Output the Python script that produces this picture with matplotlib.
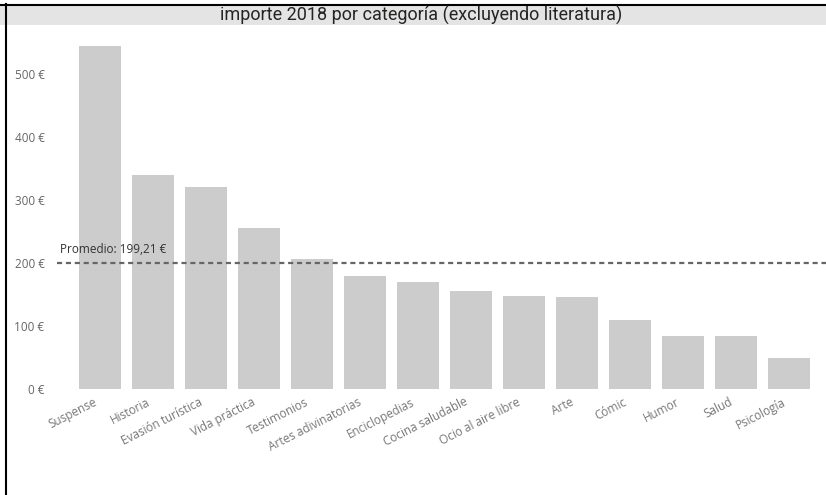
import matplotlib
matplotlib.use("Agg")
import matplotlib.pyplot as plt
from matplotlib.patches import Rectangle
from matplotlib.lines import Line2D
from matplotlib.transforms import ScaledTranslation

categories = ["Suspense", "Historia", "Evasión turística", "Vida práctica", "Testimonios",
              "Artes adivinatorias", "Enciclopedias", "Cocina saludable", "Ocio al aire libre",
              "Arte", "Cómic", "Humor", "Salud", "Psicología"]
values = [545, 340, 321, 255, 206, 179.5, 169, 156, 148, 146.5, 109, 83, 83, 48]
yticks = [0, 100, 200, 300, 400, 500]
title = "importe 2018 por categoría (excluyendo literatura)"

mean_val = sum(values) / len(values)

fig = plt.figure(figsize=(8.26, 4.95), dpi=100)
fig.patch.set_facecolor("white")

# title band
fig.patches.append(Rectangle((0, 1 - 25 / 495), 1, 21 / 495, transform=fig.transFigure,
                             facecolor="#e4e4e4", edgecolor="none", zorder=0))
fig.lines.append(Line2D([0, 1], [1 - 4.5 / 495] * 2, transform=fig.transFigure,
                        color="black", lw=1.5))
fig.lines.append(Line2D([5.5 / 826] * 2, [0, 1 - 4 / 495], transform=fig.transFigure,
                        color="black", lw=1.5))
fig.text(0.51, 1 - 15.5 / 495, title, ha="center", va="center", fontsize=13,
         family=["Roboto", "DejaVu Sans"], color="#252423")

ax = fig.add_axes([57 / 826, (495 - 388.7) / 495, 1 - 57 / 826, (388.7 - 30) / 495])
x = list(range(len(categories)))
ax.bar(x, values, width=0.79, color="#cccccc", zorder=2)
ax.set_xlim(-0.811, 13.70)
ax.set_ylim(0, 570)
for s in ax.spines.values():
    s.set_visible(False)
ax.set_yticks(yticks)
ax.set_yticklabels([f"{v} €" for v in yticks], family="Open Sans", fontsize=8.5, color="#666666")
ax.tick_params(axis="y", length=0, pad=9)
ax.set_xticks(x)
ax.set_xticklabels(categories, rotation=27, ha="right", va="center", rotation_mode="anchor",
                   family="Open Sans", fontsize=8.5, color="#777777")
ax.tick_params(axis="x", length=0, pad=9)
off = ScaledTranslation(-4 / 100, 0, fig.dpi_scale_trans)
for lab in ax.get_xticklabels():
    lab.set_transform(lab.get_transform() + off)

ax.axhline(mean_val, color="#666666", lw=1.6, ls=(0, (2.3, 1.7)), zorder=3)
label = "Promedio: " + f"{mean_val:.2f}".replace(".", ",") + " €"
ax.text(-0.75, mean_val + 11, label, ha="left", va="bottom", family="Open Sans",
        fontsize=8.5, color="#333333", zorder=4)

fig.savefig("out.png", dpi=100)
